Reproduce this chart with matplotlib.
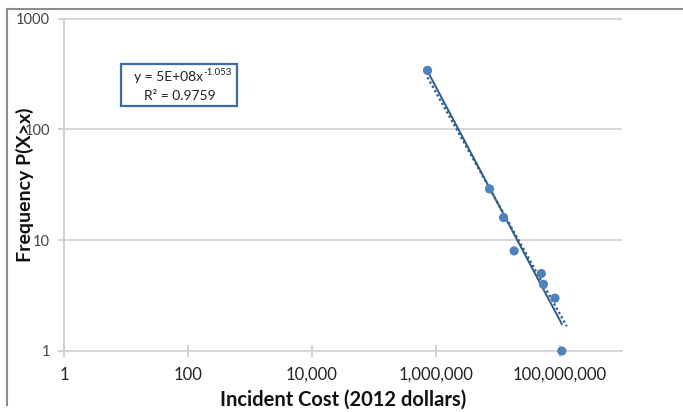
import matplotlib.pyplot as plt
from matplotlib.patches import Rectangle
from matplotlib.lines import Line2D
import numpy as np

# data
cost = [7.3e5, 7.3e6, 1.23e7, 1.82e7, 5.0e7, 5.4e7, 8.3e7, 1.07e8]
freq = [340, 29, 16, 8, 5, 4, 3, 1]

# power trendline (from the label) and the dotted fit
fit_a, fit_b = 5e8, -1.053
dot_a, dot_b = 2.15e8, -1.0

x_ticks = [1, 1e2, 1e4, 1e6, 1e8]
x_labels = ['1', '100', '10,000', '1,000,000', '100,000,000']
y_ticks = [1, 10, 100, 1000]
y_labels = ['1', '10', '100', '1000']

W, H = 683, 412
fig = plt.figure(figsize=(W / 100, H / 100), dpi=100)
ax = fig.add_axes([64 / W, 1 - 351 / H, (622 - 64) / W, (351 - 18.5) / H])

ax.set_xscale('log')
ax.set_yscale('log')
ax.set_xlim(1, 1e9)
ax.set_ylim(1, 1000)

blue = '#4F81BD'
dark = '#2D5A8C'

xs = np.array([min(cost), max(cost)])
ax.plot(xs, fit_a * xs ** fit_b, color=dark, lw=1.4, zorder=3)
xd = np.array([min(cost), max(cost) * 1.2])
ax.plot(xd, dot_a * xd ** dot_b, color=dark, lw=1.6, ls=(0, (1, 1.2)), zorder=3)
ax.scatter(cost, freq, s=44, color=blue, zorder=4, clip_on=False, edgecolors='none')

ax.grid(axis='y', color='#d4d4d4', lw=1.3)
ax.set_axisbelow(True)
for s in ['top', 'right']:
    ax.spines[s].set_visible(False)
ax.spines['left'].set_color('#c8c8c8')
ax.spines['bottom'].set_color('#d4d4d4')
ax.spines['left'].set_linewidth(1.2)
ax.spines['bottom'].set_linewidth(1.3)

ax.set_xticks(x_ticks)
ax.set_xticklabels(x_labels)
ax.set_yticks(y_ticks)
ax.set_yticklabels(y_labels)
ax.minorticks_off()
ax.tick_params(axis='x', direction='inout', length=9, color='#c8c8c8', width=1.2,
               labelsize=12, labelcolor='#222222', pad=7)
ax.tick_params(axis='y', direction='out', length=4, color='#c8c8c8', width=1.2,
               labelsize=10.5, labelcolor='#444444', pad=6)
for lab in ax.get_xticklabels() + ax.get_yticklabels():
    lab.set_family('Lato')

ax.set_xlabel('Incident Cost (2012 dollars)', fontsize=14.5, fontweight='bold',
              family='Lato', color='#111111')
ax.set_ylabel('Frequency P(X>x)', fontsize=14, fontweight='bold',
              family='Lato', color='#111111')
ax.xaxis.set_label_coords(0.5, -(400 - 351) / 332.5)
ax.xaxis.label.set_va('center')
ax.yaxis.set_label_coords(-(64 - 25) / 558, 0.5)
ax.yaxis.label.set_va('center')

# equation box
ax.add_patch(Rectangle((121 / W, 1 - 106 / H), 116 / W, 42 / H,
                       transform=fig.transFigure, facecolor='white',
                       edgecolor='#3B6CA5', lw=1.6, zorder=5))
t = ax.text(134 / W, 1 - 77 / H, 'y = 5E+08x', ha='left', va='center',
            transform=fig.transFigure, fontsize=10, family='Lato',
            color='#222222', zorder=6)
ax.annotate('-1.053', xy=(1.0, 0.85), xycoords=t, ha='left', va='center',
            fontsize=7, family='Lato', color='#222222', zorder=6)
ax.text(180 / W, 1 - 96 / H, 'R² = 0.9759', ha='center', va='center',
        transform=fig.transFigure, fontsize=10, family='Lato',
        color='#222222', zorder=6)

# chart area frame
for xx, yy in [([7 / W, 7 / W], [1 - 9 / H, 1 - 405 / H]),
               ([7 / W, 1], [1 - 9 / H, 1 - 9 / H])]:
    fig.lines.append(Line2D(xx, yy, transform=fig.transFigure, color='#8c8c8c', lw=1.5))

fig.savefig('out.png', dpi=100)
